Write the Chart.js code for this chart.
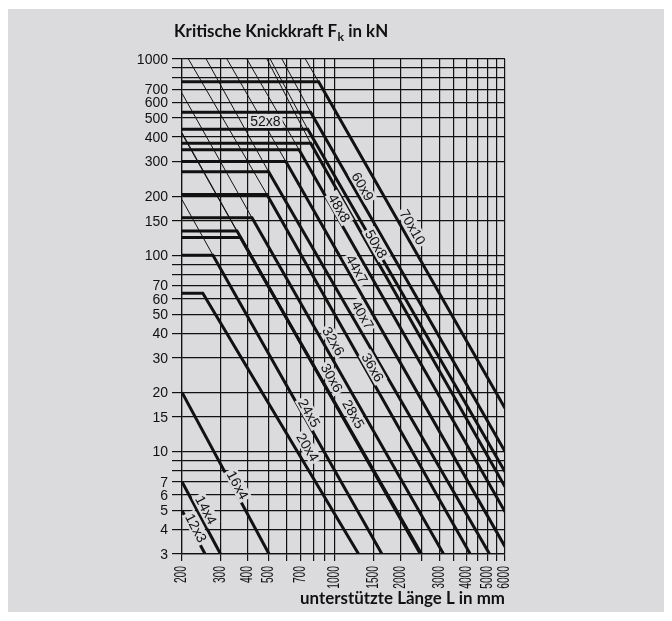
<!DOCTYPE html>
<html>
<head>
<meta charset="utf-8">
<script src="https://cdn.jsdelivr.net/npm/chart.js@4.4.1/dist/chart.umd.min.js"></script>
<style>
  html, body { margin: 0; padding: 0; background: #ffffff; }
  canvas { display: block; }
</style>
</head>
<body>
<canvas id="chart" width="672" height="621"></canvas>
<script>
// Trapezoidal thread sizes (diameter x pitch)
const threadSizes = ['70x10', '60x9', '52x8', '50x8', '48x8', '44x7', '40x7', '36x6',
                     '32x6', '30x6', '28x5', '24x5', '20x4', '16x4', '14x4', '12x3'];

// Load limit (flat part of each curve) in kN; null where the curve starts below it
const plateauForce = [765, 535, 438, 372, 345, 300, 266, 204, 155, 133, 123, 100, 64, null, null, null];
// Length in mm where the flat part turns into the buckling curve
const kneeLength = [843, 775, 752, 775, 686, 597, 498, 489, 418, 357, 370, 277, 249, null, null, null];
// Force at L = 200 mm for the curves without a flat part (kN)
const startForce = [null, null, null, null, null, null, null, null, null, null, null, null, null, 20, 7, 5];

// Where each curve leaves the diagram: length in mm and force in kN
const endLength = [6000, 6000, 6000, 6000, 6000, 6000, 5100, 4160, 3141, 2460, 2490, 1642, 1284, 500, 300, 255];
const endForce = [16.6, 10.0, 7.88, 6.61, 4.93, 3.27, 3, 3, 3, 3, 3, 3, 3, 3, 3, 3];

// Thin continuation of the buckling curve above the load limit: start point
const thinStartLength = [733, 573, 506, 489, 396, 321, 258, 214, 200, 200, 200, 200, null, null, null, null];
const thinStartForce = [1000, 1000, 1000, 1000, 1000, 1000, 1000, 1000, 669, 421, 415, 192, null, null, null, null];

// Axis grid and tick labels
const xGridValues = [200, 300, 400, 500, 600, 700, 800, 900, 1000, 1500, 2000, 2500, 3000, 3500, 4000, 4500, 5000, 5500, 6000];
const xTickLabels = ['200', '300', '400', '500', '700', '1000', '1500', '2000', '3000', '4000', '5000', '6000'];
const yGridValues = [3, 4, 5, 6, 7, 8, 9, 10, 15, 20, 30, 40, 50, 60, 70, 80, 90, 100, 150, 200, 300, 400, 500, 600, 700, 800, 900, 1000];
const yTickLabels = ['1000', '700', '600', '500', '400', '300', '200', '150', '100', '70', '60', '50', '40', '30', '20', '15', '10', '7', '6', '5', '4', '3'];

// ---- drawing setup ----
const PANEL = '#dbdbdd';
const INK = '#111111';
const TITLE_FONT = 'Lato, "Open Sans", sans-serif';

// Placement of the size captions (length mm, force kN) next to their curves
const captionSpots = [
  [2268, 139], [1342, 224], [481, 483], [1547, 114], [1048, 174], [1262, 85], [1342, 49.6], [1491, 26.8],
  [987, 36.5], [970, 23.7], [1218, 15.5], [764, 15.7], [752, 10.5], [360, 6.74], [258, 5.03], [232, 4.07]
];
const horizontalCaptions = new Set(['52x8']);

const datasets = [];
threadSizes.forEach((name, i) => {
  const pts = plateauForce[i] !== null
    ? [{ x: 200, y: plateauForce[i] }, { x: kneeLength[i], y: plateauForce[i] }, { x: endLength[i], y: endForce[i] }]
    : [{ x: 200, y: startForce[i] }, { x: endLength[i], y: endForce[i] }];
  datasets.push({ label: name, data: pts, borderColor: INK, borderWidth: 3, showLine: true,
                  pointRadius: 0, fill: false, tension: 0, borderCapStyle: 'butt', borderJoinStyle: 'miter' });
  if (thinStartLength[i] !== null) {
    datasets.push({ label: name + ' (Euler)', data: [{ x: thinStartLength[i], y: thinStartForce[i] }, { x: kneeLength[i], y: plateauForce[i] }],
                    borderColor: INK, borderWidth: 1, showLine: true, pointRadius: 0, fill: false, tension: 0 });
  }
});

const panelPlugin = {
  id: 'panel',
  beforeDraw(chart) {
    const ctx = chart.ctx;
    ctx.save();
    ctx.fillStyle = '#ffffff';
    ctx.fillRect(0, 0, chart.width, chart.height);
    ctx.fillStyle = PANEL;
    ctx.fillRect(8, 9, 656, 603);
    ctx.restore();
  }
};

const captionPlugin = {
  id: 'captions',
  afterDatasetsDraw(chart) {
    const ctx = chart.ctx;
    const xs = chart.scales.x, ys = chart.scales.y;
    ctx.save();
    ctx.font = '14px "Liberation Sans", Arial, sans-serif';
    threadSizes.forEach((name, i) => {
      const [lx, ly] = captionSpots[i];
      const px = xs.getPixelForValue(lx), py = ys.getPixelForValue(ly);
      let angle = 0;
      if (!horizontalCaptions.has(name)) {
        const sx = plateauForce[i] !== null ? kneeLength[i] : 200;
        const sy = plateauForce[i] !== null ? plateauForce[i] : startForce[i];
        const x0 = xs.getPixelForValue(sx), y0 = ys.getPixelForValue(sy);
        const x1 = xs.getPixelForValue(endLength[i]), y1 = ys.getPixelForValue(endForce[i]);
        angle = Math.atan2(y1 - y0, x1 - x0);
      }
      ctx.save();
      ctx.translate(px, py);
      ctx.rotate(angle);
      const w = ctx.measureText(name).width;
      ctx.fillStyle = PANEL;
      ctx.fillRect(-w / 2 - 2, -7, w + 4, 14);
      ctx.fillStyle = INK;
      ctx.textAlign = 'center';
      ctx.textBaseline = 'middle';
      ctx.fillText(name, 0, 1);
      ctx.restore();
    });
    ctx.restore();
  }
};

// Font size that lets a bold title span the given width
function fittedSize(ctx, text, width) {
  ctx.font = 'bold 20px ' + TITLE_FONT;
  return 20 * width / ctx.measureText(text).width;
}

const axisTextPlugin = {
  id: 'axisText',
  afterDraw(chart) {
    const ctx = chart.ctx;
    const xs = chart.scales.x, ys = chart.scales.y;
    ctx.save();
    ctx.fillStyle = INK;
    // force ticks
    ctx.font = '14px "Liberation Sans", Arial, sans-serif';
    ctx.textAlign = 'right';
    ctx.textBaseline = 'middle';
    yTickLabels.forEach(t => {
      ctx.fillText(t, 168, ys.getPixelForValue(Number(t)) + 1);
    });
    // length ticks, set upright and narrow
    ctx.font = '16px "Liberation Sans", Arial, sans-serif';
    xTickLabels.forEach(t => {
      ctx.save();
      ctx.translate(xs.getPixelForValue(Number(t)), 566);
      ctx.rotate(-Math.PI / 2);
      ctx.scale(0.64, 1);
      ctx.textAlign = 'right';
      ctx.textBaseline = 'middle';
      ctx.fillText(t, 0, 0);
      ctx.restore();
    });
    // axis titles
    ctx.textBaseline = 'alphabetic';
    ctx.textAlign = 'left';
    const size = fittedSize(ctx, 'Kritische Knickkraft Fk in kN', 216);
    const big = 'bold ' + size.toFixed(1) + 'px ' + TITLE_FONT;
    const small = 'bold ' + (size * 0.72).toFixed(1) + 'px ' + TITLE_FONT;
    let x = 174;
    const part1 = 'Kritische Knickkraft F';
    ctx.font = big;
    ctx.fillText(part1, x, 37);
    x += ctx.measureText(part1).width;
    ctx.font = small;
    ctx.fillText('k', x + 0.5, 41);
    x += ctx.measureText('k').width + 0.5;
    ctx.font = big;
    ctx.fillText(' in kN', x, 37);

    ctx.textAlign = 'right';
    ctx.font = big;
    ctx.fillText('unterstützte Länge L in mm', 505, 604);
    ctx.restore();
  }
};

const gridCommon = { color: INK, lineWidth: 1.2, drawTicks: true, tickColor: INK };

new Chart(document.getElementById('chart'), {
  type: 'scatter',
  data: { datasets },
  options: {
    responsive: false,
    animation: false,
    devicePixelRatio: 1,
    layout: { padding: { left: 172, right: 167, top: 59, bottom: 60 } },
    plugins: { legend: { display: false }, tooltip: { enabled: false } },
    elements: { point: { radius: 0 } },
    scales: {
      x: {
        type: 'logarithmic', min: 200, max: 6000,
        afterBuildTicks: s => { s.ticks = xGridValues.map(v => ({ value: v })); },
        ticks: { display: false },
        grid: Object.assign({}, gridCommon, { tickLength: 7 }),
        border: { color: INK, width: 1.2 }
      },
      y: {
        type: 'logarithmic', min: 3, max: 1000,
        afterBuildTicks: s => { s.ticks = yGridValues.map(v => ({ value: v })); },
        ticks: { display: false },
        grid: Object.assign({}, gridCommon, { tickLength: 10 }),
        border: { color: INK, width: 1.2 }
      }
    }
  },
  plugins: [panelPlugin, captionPlugin, axisTextPlugin]
});
</script>
</body>
</html>
